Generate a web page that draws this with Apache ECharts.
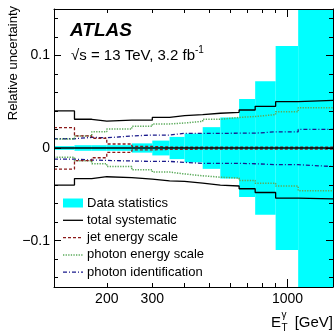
<!DOCTYPE html>
<html><head><meta charset="utf-8">
<script src="https://cdn.jsdelivr.net/npm/echarts@6/dist/echarts.min.js"></script>
<style>html,body{margin:0;padding:0;background:#fff}#c{width:335px;height:336px}</style>
</head><body><div id="c"></div>
<script>
// Bin edges in E_T^gamma [GeV]
const binEdges = [125,150,175,200,250,300,350,400,470,550,650,750,900,1100,1500];
// Data statistics (symmetric relative uncertainty)
const dataStat = [0.002,0.003,0.003,0.003,0.005,0.008,0.012,0.0155,0.0225,0.033,0.053,0.072,0.110,0.25];
// total systematic
const sysUp = [0.040,0.031,0.029,0.030,0.030,0.033,0.035,0.036,0.0375,0.0385,0.041,0.045,0.050,0.0515];
const sysDn = [-0.040,-0.033,-0.031,-0.032,-0.0335,-0.0354,-0.036,-0.038,-0.040,-0.041,-0.044,-0.048,-0.054,-0.055];
// jet energy scale
const jesUp = [0.022,0.013,0.0105,0.0043,0.0017,0.001,0.001,0.001,0.001,0.001,0.001,0.001,0.001,0.001];
const jesDn = [-0.0227,-0.0137,-0.0105,-0.0047,-0.002,-0.0015,-0.0015,-0.0012,-0.0012,-0.0012,-0.0012,-0.0012,-0.0012,-0.0012];
// photon energy scale
const pesUp = [0.0097,0.013,0.0175,0.0205,0.0234,0.026,0.027,0.0288,0.031,0.033,0.034,0.036,0.039,0.0435];
const pesDn = [-0.010,-0.0137,-0.017,-0.020,-0.0235,-0.026,-0.028,-0.030,-0.0315,-0.0325,-0.035,-0.038,-0.041,-0.046];
// photon identification
const pidUp = [0.010,0.0115,0.011,0.013,0.014,0.014,0.0158,0.0158,0.0158,0.016,0.016,0.0175,0.0175,0.020];
const pidDn = [-0.012,-0.013,-0.0134,-0.014,-0.0145,-0.0145,-0.0155,-0.0166,-0.0166,-0.0166,-0.017,-0.018,-0.018,-0.020];

const legendNames = ['Data statistics','total systematic','jet energy scale','photon energy scale','photon identification'];
const xTickLabels = [200,300,1000];
const xMajorTicks = [1000];
const xMinorTicks = [200,300,400,500,600,700,800,900];
const yTickLabels = [-0.1,0,0.1];
const yMinorTicks = [-0.14,-0.12,-0.08,-0.06,-0.04,-0.02,0.02,0.04,0.06,0.08,0.12,0.14];

const FONT = "'Liberation Sans', Arial, Helvetica, sans-serif";
const X_MIN = 125, X_MAX = 1500, Y_MIN = -0.15, Y_MAX = 0.15;
const STY = {
  'Data statistics':{color:'#00ffff'},
  'total systematic':{color:'#000', dash:'solid', width:1.3},
  'jet energy scale':{color:'#8b1a1a', dash:[3,2], width:1.3},
  'photon energy scale':{color:'#5aaa5a', dash:[1.3,1.3], width:1.5},
  'photon identification':{color:'#1a1a8c', dash:[4,2,1,2], width:1.3}
};

function stepData(vals){ return binEdges.map((e,i)=>[e, vals[Math.min(i, vals.length-1)]]); }
function lineSeries(name, vals){
  const s = STY[name];
  return {type:'line', name:name, data:stepData(vals), step:'end', symbol:'none', showSymbol:false,
    lineStyle:{color:s.color, width:s.width, type:s.dash}, itemStyle:{color:s.color}, silent:true, animation:false};
}
function xAx(pos, ticks, len, showLine, labels){
  return {type:'log', logBase:10, min:X_MIN, max:X_MAX, position:pos, z:10,
    axisLine:{show:showLine, onZero:false, lineStyle:{color:'#000', width:1}},
    axisTick:{show:true, inside:true, length:len, customValues:ticks, lineStyle:{color:'#000', width:1}},
    axisLabel:labels ? {show:true, customValues:labels, margin:5, color:'#000', fontSize:14, fontFamily:FONT, formatter:v=>String(Math.round(v))} : {show:false},
    splitLine:{show:false}, minorTick:{show:false}, minorSplitLine:{show:false}};
}
function yAx(pos, ticks, len, showLine, labels){
  return {type:'value', min:Y_MIN, max:Y_MAX, position:pos, z:10,
    axisLine:{show:showLine, onZero:false, lineStyle:{color:'#000', width:1}},
    axisTick:{show:true, inside:true, length:len, customValues:ticks, lineStyle:{color:'#000', width:1}},
    axisLabel:labels ? {show:true, customValues:labels, margin:4, color:'#000', fontSize:14, fontFamily:FONT,
      formatter:v=>v<0 ? '\u2212'+String(Math.abs(v)) : String(v)} : {show:false},
    splitLine:{show:false}};
}

// legend drawn as graphic elements
const LEG_X = 63, LEG_Y0 = 203, LEG_DY = 17.3;
const legendGraphics = [];
legendNames.forEach((n,i)=>{
  const y = LEG_Y0 + i*LEG_DY, s = STY[n];
  if (i === 0) legendGraphics.push({type:'rect', shape:{x:LEG_X, y:y-4.5, width:20, height:9}, style:{fill:s.color}});
  else legendGraphics.push({type:'line', shape:{x1:LEG_X, y1:y, x2:LEG_X+20, y2:y},
    style:{stroke:s.color, lineWidth:s.width, lineDash:s.dash==='solid'?null:s.dash}});
  legendGraphics.push({type:'text', x:LEG_X+24, y:y, style:{text:n, font:'13px '+FONT, fill:'#000', verticalAlign:'middle'}});
});

const chart = echarts.init(document.getElementById('c'), null, {renderer:'canvas'});
chart.setOption({
  animation:false,
  backgroundColor:'#fff',
  textStyle:{fontFamily:FONT},
  grid:{left:54, right:2, top:9, bottom:49, containLabel:false},
  xAxis:[
    xAx('bottom', xMajorTicks, 8, true, xTickLabels),
    xAx('bottom', xMinorTicks, 4, false, null),
    xAx('top', xMajorTicks, 8, true, null),
    xAx('top', xMinorTicks, 4, false, null)
  ],
  yAxis:[
    yAx('left', yTickLabels, 7, true, yTickLabels),
    yAx('left', yMinorTicks, 4, false, null),
    yAx('right', yTickLabels, 7, true, null),
    yAx('right', yMinorTicks, 4, false, null)
  ],
  series:[
    {type:'custom', name:'Data statistics', xAxisIndex:0, yAxisIndex:0, silent:true,
      itemStyle:{color:STY['Data statistics'].color},
      data:dataStat.map((s,i)=>[binEdges[i], binEdges[i+1], s]),
      encode:{x:[0,1], y:2},
      renderItem:function(params, api){
        const lo=api.value(0), hi=api.value(1), s=api.value(2);
        const p1=api.coord([lo, s]), p2=api.coord([hi, -s]);
        const cs = params.coordSys;
        const rect = echarts.graphic.clipRectByRect(
          {x:p1[0], y:p1[1], width:p2[0]-p1[0], height:p2[1]-p1[1]},
          {x:cs.x, y:cs.y, width:cs.width, height:cs.height});
        return rect && {type:'rect', shape:rect, style:{fill:STY['Data statistics'].color}};
      }},
    lineSeries('photon identification', pidUp),
    lineSeries('photon identification', pidDn),
    lineSeries('photon energy scale', pesUp),
    lineSeries('photon energy scale', pesDn),
    lineSeries('jet energy scale', jesUp),
    lineSeries('jet energy scale', jesDn),
    {type:'line', name:'zero', data:[[X_MIN,0],[X_MAX,0]], symbol:'none', silent:true,
      lineStyle:{color:'#000', width:1.5}},
    lineSeries('total systematic', sysUp),
    lineSeries('total systematic', sysDn)
  ],
  graphic:[
    {type:'text', x:70, y:31, style:{text:'ATLAS', font:"italic bold 19px "+FONT, fill:'#000', verticalAlign:'middle'}},
    {type:'text', x:71, y:54, style:{
      text:'{n|\u221As = 13 TeV, 3.2 fb}{s|-1}', verticalAlign:'middle', fill:'#000',
      rich:{n:{fontSize:15, fontFamily:FONT, lineHeight:18, verticalAlign:'bottom'},
            s:{fontSize:10, fontFamily:FONT, lineHeight:10, verticalAlign:'top'}}}},
    {type:'text', x:13, y:6, rotation:Math.PI/2, style:{text:'Relative uncertainty', font:"13px "+FONT, fill:'#000', align:'right', verticalAlign:'middle'}},
    {type:'text', x:271, y:323, style:{text:'E', font:"15px "+FONT, fill:'#000', verticalAlign:'middle'}},
    {type:'text', x:281.5, y:315, style:{text:'\u03B3', font:"10px "+FONT, fill:'#000', verticalAlign:'middle'}},
    {type:'text', x:281.5, y:328, style:{text:'T', font:"10px "+FONT, fill:'#000', verticalAlign:'middle'}},
    {type:'text', x:333, y:323, style:{text:'[GeV]', font:"15px "+FONT, fill:'#000', align:'right', verticalAlign:'middle'}}
  ].concat(legendGraphics)
});
</script>
</body></html>
